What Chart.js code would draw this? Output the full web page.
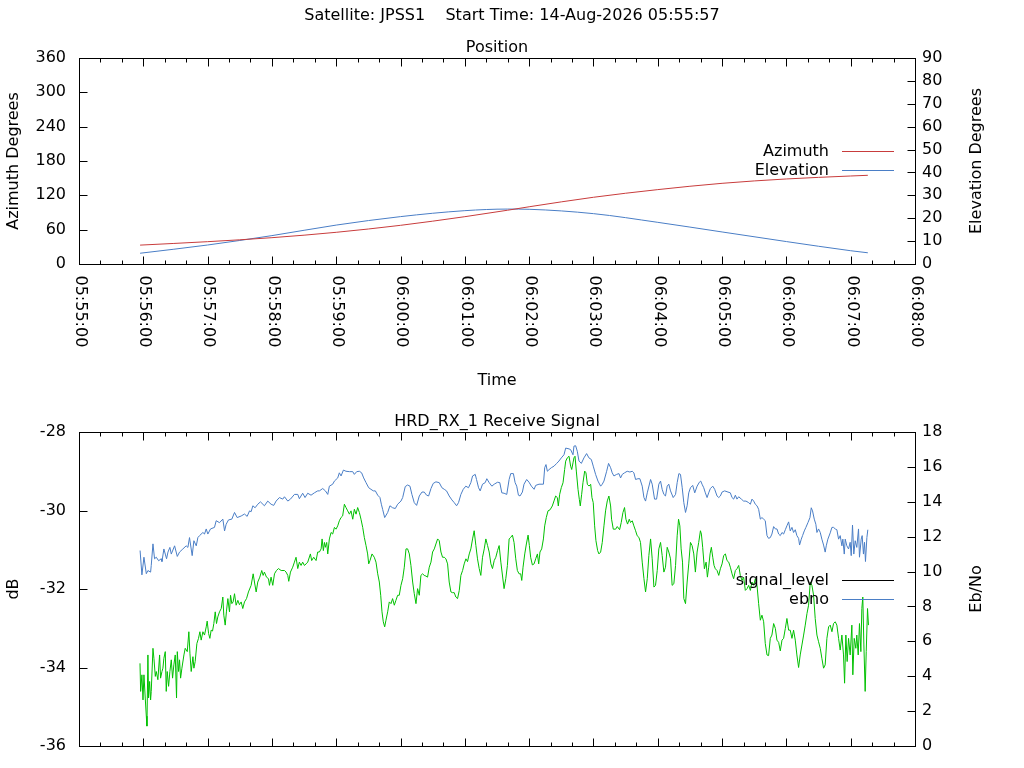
<!DOCTYPE html>
<html>
<head>
<meta charset="utf-8">
<script src="https://cdn.jsdelivr.net/npm/chart.js@4.4.1/dist/chart.umd.min.js"></script>
<style>
  body { margin: 0; background: #fff; }
  #wrap { position: relative; width: 1024px; height: 768px; overflow: hidden; background: #fff; }
  #mainTitle { position: absolute; left: 0; top: 6px; width: 1024px; text-align: center;
    font: 16px/18px 'DejaVu Sans'; white-space: pre; color: #000; }
  canvas { position: absolute; left: 0; }
  #posChart { top: 0; }
  #sigChart { top: 392px; }
</style>
</head>
<body>
<div id="wrap">
  <canvas id="posChart" width="1024" height="392"></canvas>
  <canvas id="sigChart" width="1024" height="376"></canvas>
  <div id="mainTitle">Satellite: JPSS1    Start Time: 14-Aug-2026 05:55:57</div>
</div>
<script>
// all times are seconds after 05:55:00
const posTimes  = [57, 120, 180, 240, 300, 360, 400, 420, 480, 540, 600, 660, 720, 736];
const azimuth   = [33, 39, 46, 55.4, 67.6, 82.7, 94, 100, 116.6, 130, 141, 148.6, 153.8, 155];
const elevation = [4.7, 8.3, 12.4, 17, 20.7, 23.3, 24.0, 23.9, 22, 18.2, 14, 9.8, 5.8, 4.9];

// blue trace, left axis (dB)
const levelTimes = [57,58.7,60.6,62.8,64.3,66.8,67.4,69,70.5,72.1,74.3,76.7,77.4,79.2,80.5,81.7,83,84.8,86.1,89.2,
  91.7,93.8,96.9,100,101.6,103.1,105.6,107.2,109.4,110.9,112.5,115.6,117.1,118.7,120.2,122.7,126.4,128,131.1,134.2,
  135.8,137.3,139.5,142.6,145.1,147.6,151.3,154.4,156.9,159.1,160.6,162.2,164.3,166.8,169.3,173,176.1,179.2,181.7,183.9,
  187,190.1,191.7,194.8,197.3,201,204.1,205.6,208.7,210.9,213.4,216.5,219.6,222.7,
  224.3,227.4,229.9,232.1,233.6,236.7,238.3,241.4,242.9,244.5,246.7,249.1,252.3,255.4,256.9,259.1,261.6,263.7,265.6,267.8,
  270.3,272.4,274.6,276.5,278.7,280.8,282.1,283.3,285.2,288,290.1,292.6,295.1,297.3,300.4,302,304.4,306.6,308.8,310.6,
  312.8,315,317.5,320,322.1,324.3,326.2,328.4,330.5,333,336.1,338.6,340.8,342.9,345.4,347.9,350.1,352.3,354.1,356.3,
  358.5,360.9,363.4,365.6,367.2,369.7,370.9,372.8,374.3,376.5,379,380.5,382.7,385.2,387.4,390.5,392.6,394.5,
  396.6,399.1,401.3,402.8,405.3,406.9,408.4,410,411.5,413.7,415.2,417.7,419.9,422.1,424.6,426.1,429.2,433.3,434.5,435.7,
  437,438.5,440.7,443.2,445.7,447.8,450,452.5,454.1,457.2,458.7,460.9,461.8,463.4,464.9,466.5,468.7,471.1,473.6,475.8,
  478,479.8,482,484.2,486.7,488.2,489.8,492.3,494.1,496,497.5,499.1,501.6,503.8,505.3,506.9,509,511.5,514,516.2,
  517.7,519.3,521.5,523.3,525.5,527.1,528.6,530.2,533.3,534.8,537,538.9,541,542.6,544.1,545.7,547.2,548.8,550.3,551.9,
  554.4,556.6,558.1,559.7,561.2,562.8,564.3,565.9,567.4,
  568.9,570.5,572.6,574.5,576.7,578.8,580.1,581.3,582.9,584.4,586,587.5,589.1,591.3,593.1,595.3,596.9,598.4,600,602.4,
  605.5,607.7,609.3,610.8,612.4,613.9,615.5,618,620.1,622.3,624.8,626.4,627.9,629.5,631,632.6,634.1,635.7,637.2,638.8,
  640.3,641.9,643.4,645,646.5,648.1,649.7,651.2,652.8,654.3,655.9,657.4,659,660.5,662.1,663.6,665.2,666.7,668.3,669.8,
  671.4,672.3,673.9,675.1,676.7,678.2,680.1,682,683.2,684.4,686,687.5,688.5,690,691.6,693.1,694.7,696.2,697.2,698.7,
  700.9,702.5,704,705.6,707.1,708.7,710.2,711.8,712.7,714,714.9,716.4,718,719.5,720.5,721.7,722.9,724.2,725.7,727.3,
  728.2,729.8,730.7,731.9,732.9,733.8,735.1,736];
const levelDb = [-31.02,-31.64,-31.19,-31.61,-31.53,-31.57,-31.40,-30.85,-31.23,-31.19,-31.28,-31.23,-31.30,-30.98,-31.11,-31.23,-31.06,-30.94,-31.11,-30.90,
  -31.17,-31.06,-30.98,-30.90,-30.94,-30.69,-31.15,-30.77,-30.90,-30.69,-30.64,-30.56,-30.60,-30.47,-30.60,-30.47,-30.43,-30.26,-30.31,-30.22,
  -30.52,-30.35,-30.24,-30.22,-30.05,-30.18,-30.14,-30.09,-30.15,-30.01,-30.03,-29.88,-29.93,-29.84,-29.78,-29.88,-29.76,-29.84,-29.87,-29.76,
  -29.67,-29.71,-29.65,-29.76,-29.71,-29.59,-29.59,-29.70,-29.56,-29.67,-29.56,-29.61,-29.55,-29.50,
  -29.50,-29.44,-29.50,-29.59,-29.38,-29.33,-29.25,-29.17,-29.04,-29.12,-28.97,-29.00,-29.01,-29.01,-29.08,-29.01,-29.00,-29.04,-29.17,-29.29,
  -29.42,-29.46,-29.50,-29.50,-29.61,-29.67,-29.84,-29.97,-30.18,-30.05,-29.88,-29.93,-29.95,-29.84,-29.76,-29.67,-29.39,-29.35,-29.38,-29.59,
  -29.80,-29.87,-29.63,-29.53,-29.53,-29.61,-29.63,-29.44,-29.31,-29.27,-29.29,-29.42,-29.46,-29.50,-29.63,-29.73,-29.80,-29.88,-29.80,-29.59,
  -29.46,-29.38,-29.42,-29.29,-29.12,-29.08,-29.21,-29.42,-29.50,-29.33,-29.29,-29.19,-29.29,-29.38,-29.33,-29.28,-29.29,-29.55,
  -29.56,-29.59,-29.21,-29.06,-29.06,-29.29,-29.38,-29.61,-29.63,-29.53,-29.33,-29.21,-29.28,-29.38,-29.46,-29.36,-29.33,-29.33,-28.91,-28.83,
  -29.00,-28.96,-28.91,-28.87,-28.80,-28.74,-28.66,-28.58,-28.41,-28.43,-28.45,-28.58,-28.36,-28.35,-28.49,-28.74,-28.80,-28.66,-28.55,-28.66,
  -28.70,-28.87,-29.08,-29.25,-29.38,-29.33,-29.25,-29.00,-28.80,-28.91,-29.04,-29.12,-29.08,-29.06,-29.17,-29.08,-29.04,-29.00,-29.02,-29.00,
  -29.04,-29.21,-29.19,-29.19,-29.38,-29.67,-29.76,-29.55,-29.21,-29.33,-29.71,-29.71,-29.33,-29.25,-29.46,-29.59,-29.63,-29.38,-29.33,-29.50,
  -29.67,-29.59,-29.29,-29.06,-29.08,-29.42,-29.80,-30.05,-29.88,
  -29.55,-29.42,-29.36,-29.55,-29.38,-29.28,-29.25,-29.33,-29.42,-29.55,-29.67,-29.55,-29.44,-29.38,-29.46,-29.63,-29.67,-29.63,-29.53,-29.50,
  -29.53,-29.55,-29.67,-29.71,-29.61,-29.71,-29.65,-29.71,-29.76,-29.76,-29.80,-29.84,-29.71,-29.76,-29.84,-29.88,-29.97,-30.22,-30.18,-30.22,
  -30.26,-30.64,-30.71,-30.69,-30.60,-30.41,-30.47,-30.47,-30.60,-30.64,-30.56,-30.60,-30.49,-30.39,-30.29,-30.52,-30.43,-30.56,-30.49,-30.64,
  -30.71,-30.88,-30.73,-30.64,-30.52,-30.43,-30.31,-30.18,-29.93,-30.01,-30.22,-30.35,-30.56,-30.47,-30.56,-30.73,-30.88,-31.06,-30.90,-30.73,
  -30.57,-30.43,-30.43,-30.47,-30.49,-30.73,-30.64,-30.90,-30.73,-31.11,-30.73,-30.90,-30.98,-30.81,-31.15,-30.37,-31.11,-30.77,-30.94,-30.47,
  -31.19,-30.73,-30.64,-31.11,-30.81,-31.30,-30.69,-30.49];

// green trace, right axis (Eb/No)
const ebnoTimes = [56.9,57.5,58.7,59.7,60.6,61.8,62.8,63.4,64.3,64.9,65.9,66.8,67.4,69,69.9,71.2,72.1,73.6,75.2,76.1,
  77.4,78.3,79.2,80.5,81.4,82.3,83.6,84.8,86.1,87.3,88.5,89.8,91,91.7,92.9,93.8,94.8,96,97.9,99.1,
  101,102.5,103.5,104.7,106.3,107.2,108.4,110,111.5,112.8,114,115.6,117.1,118.7,119.6,120.9,122.1,123.3,124.6,125.8,
  127.1,128.3,129.5,131.1,132.7,134.2,135.1,136.4,137.6,138.9,140.4,141.4,142.6,143.8,145.1,146.6,148.2,149.7,151.3,152.8,
  154.4,156.3,158.1,160.6,162.5,163.7,165.3,166.8,168.7,170.5,171.8,173,174.9,176.8,177.7,179.2,180.8,182.4,184.2,186.1,
  188.6,191.7,193.2,194.8,195.7,197.3,199.4,201,202.5,204.1,205.6,207.2,208.7,210.3,211.9,213.4,215.9,217.1,219,221.2,222.7,
  224.3,225.9,226.8,228,229,229.9,231.1,232.1,233.6,235.2,236.7,238.3,239.8,241.4,242.9,244.5,246,247.6,249.1,250.7,
  252.3,253.8,255.4,256.9,258.5,260,261.6,263.1,264.7,266.2,267.8,269.3,270.3,271.5,273.4,275.5,277.1,278.7,280.2,281.5,
  282.7,283.9,285.2,286.4,288,289.5,291.1,292.6,294.2,295.7,297.3,298.8,300.4,302,303.5,305.1,306.6,308.2,309.7,311.3,
  312.8,314.4,315.9,317.5,319,320.6,322.1,323.7,325.2,326.8,328.4,329.9,331.5,333,334.6,336.1,337.7,339.2,340.8,342.3,
  343.9,345.4,347,348.5,350.1,351.6,353.2,354.8,356.3,357.9,359.4,361,362.5,364.1,365.6,367.2,368.7,370.3,371.8,373.4,
  374.9,376.5,378.1,379.6,381.2,382.7,384.3,385.8,387.4,388.9,390.5,392,393.6,
  396.6,398.2,399.7,401.3,402.8,404.4,405.9,407.5,409,410.6,412.1,413.1,414.3,415.9,417.4,419,420.2,421.4,423,424.6,
  426.1,427.7,428.9,430.1,431.7,433.3,434.5,436,437.6,439.5,441.6,443.2,444.7,446.3,447.2,448.5,450,451.6,453.1,454.1,
  455.6,457.2,458.7,459.7,460.9,461.8,462.8,464,465.6,466.8,467.7,469,470.2,471.8,473,474.3,475.8,477.4,478.6,479.8,
  481.1,482.3,483.9,485.1,486.7,488.2,489.8,491.3,492.9,494.4,496,496.9,498.5,500.7,502.2,504.4,505.9,507.5,509,510.3,
  511.8,513.4,514.6,516.2,517.7,519.3,520.8,522.4,523.9,525.5,527.1,528.6,530.2,531.7,533.3,534.8,536.4,537.9,539.5,541,
  542.6,544.1,545.7,547.2,548.8,550.3,551.9,553.4,555,556.6,558.1,559.4,560.6,561.8,563.1,564.3,565.9,567.4,
  568.9,570.5,572,573.6,575.1,576.7,578.2,579.8,580.7,581.9,583.5,585.1,586.3,587.5,588.8,590,591.3,592.5,593.7,595.3,
  596.9,598.4,600,601.5,603.1,604.6,606.2,607.7,609.3,610.8,612.4,613.9,615.5,617,618.6,620.1,621.7,623.3,624.8,626.4,
  627.9,629.5,631,632.6,634.1,635.7,637.2,638.8,640.3,641.9,643.4,645,646.5,648.1,649.7,651.2,652.8,654.3,655.9,657.4,
  659,660.5,662.1,663.6,665.2,666.7,668.3,669.8,671.4,672.9,674.5,676.1,677.6,679.2,680.7,682.3,683.8,685.4,686.9,688.5,
  690,691.6,693.1,694.7,696.2,697.8,699.4,700.9,702.5,704,705.6,707.1,708.7,710.2,711.8,713.3,714.3,715.5,716.7,718,
  719.5,721.1,722,723.3,724.8,725.7,727,728.2,729.5,730.4,731.3,732.3,733.5,734.5,735.7,736.6];
const ebnoVals = [4.74,3.13,4.08,2.64,4.08,2.75,1.71,1.14,5.22,2.75,3.70,2.64,3.13,5.60,5.03,3.99,4.27,3.80,5.22,3.89,
  4.27,4.46,5.03,5.41,3.13,4.27,3.42,4.27,4.94,3.89,4.65,5.22,2.75,5.41,4.27,4.94,3.89,4.46,5.22,5.60,
  5.41,6.55,5.32,4.27,5.12,4.46,4.84,5.88,6.17,6.55,6.07,6.55,6.36,6.83,7.16,6.45,6.17,6.64,6.59,7.02,
  7.69,7.02,7.40,7.69,7.88,8.54,7.50,6.93,7.73,8.45,7.69,8.64,8.16,8.26,8.73,8.07,8.35,8.10,8.26,7.88,
  8.26,8.45,8.83,9.21,9.87,9.40,8.83,9.40,9.68,10.06,9.78,9.97,9.68,9.59,9.21,9.68,9.21,9.87,10.06,10.17,
  10.06,10.06,9.97,9.78,9.44,9.97,10.25,10.54,10.82,10.17,10.54,10.35,10.54,10.35,10.44,10.54,11.01,10.63,10.82,10.63,11.12,
  11.12,11.30,11.87,11.20,11.67,11.39,11.67,11.01,11.87,12.24,12.15,12.53,12.43,12.62,12.91,13.10,13.19,13.86,13.67,13.48,
  13.29,13.48,13.00,13.57,13.29,13.67,13.38,13.00,12.53,11.96,11.49,11.01,10.44,10.63,11.01,10.82,10.54,9.87,9.40,8.64,
  7.69,7.12,6.83,7.21,7.69,8.26,8.16,8.45,8.07,8.35,8.64,8.64,9.21,9.59,10.25,11.30,11.30,11.01,10.35,9.40,
  8.73,8.16,9.02,8.64,9.78,9.87,9.78,9.74,9.68,10.25,10.54,11.12,11.30,11.58,11.87,11.77,11.12,10.82,10.82,10.73,
  10.44,9.40,8.83,8.79,8.79,8.54,8.45,8.92,9.78,10.06,10.44,10.73,10.57,11.01,11.30,11.87,12.34,11.49,10.73,10.17,
  9.78,10.82,11.30,11.87,11.49,11.12,10.44,10.17,10.63,10.82,11.20,11.49,10.54,
  9.02,9.59,10.35,11.87,11.96,12.09,11.67,10.73,10.06,9.87,9.87,9.49,10.25,11.01,11.58,12.09,11.49,10.82,10.38,10.44,
  10.73,11.01,10.44,11.12,11.30,11.87,12.62,13.10,13.48,13.54,13.76,14.05,14.33,14.24,13.76,14.43,14.81,15.09,15.85,16.33,
  16.52,16.61,16.04,15.85,16.23,16.52,16.61,15.76,14.71,14.14,13.76,14.43,15.09,15.76,15.66,15.00,14.90,15.00,14.24,13.95,
  12.62,11.77,11.20,11.01,11.12,11.67,12.62,13.48,14.05,14.33,13.76,13.00,12.43,12.43,12.58,12.40,12.81,13.38,13.67,13.00,
  12.72,13.00,12.81,12.91,12.62,12.34,12.05,11.96,11.67,10.54,9.59,8.83,9.59,10.92,11.87,10.73,9.11,9.21,10.06,11.30,
  11.67,10.92,9.97,10.25,11.39,11.12,10.73,9.21,9.30,10.35,12.05,13.00,12.62,11.30,10.54,8.45,8.16,9.40,
  10.44,11.67,11.49,11.01,9.97,11.12,11.67,12.34,12.15,11.39,10.16,10.54,9.68,10.25,11.01,11.39,10.82,10.35,10.16,10.06,
  9.78,10.16,10.44,10.92,11.01,10.63,10.54,10.25,9.87,9.59,10.06,10.16,10.35,9.78,9.49,9.68,8.92,9.02,9.21,8.92,
  9.40,9.21,9.59,9.21,8.16,7.21,7.50,7.12,5.88,5.22,5.18,6.17,6.36,7.02,6.74,6.07,5.94,5.45,6.07,6.17,
  6.74,7.31,6.64,6.64,6.17,6.64,6.07,5.22,4.50,5.22,5.79,6.36,6.93,7.59,8.07,9.40,9.21,8.64,7.31,6.36,
  5.98,5.60,5.03,4.46,4.65,6.17,6.83,6.93,6.55,7.02,7.12,6.93,6.17,5.50,6.36,5.22,3.60,6.36,4.84,6.17,
  5.22,6.93,4.08,6.17,5.60,6.36,5.22,7.02,5.41,7.88,8.54,5.79,3.13,5.41,7.88,6.93];

const FONT = 'DejaVu Sans';
Chart.defaults.font.family = FONT;
Chart.defaults.font.size = 16;
Chart.defaults.font.lineHeight = 1.125;
Chart.defaults.color = '#000';

const BASE_SEC = 5 * 3600 + 55 * 60;
function hms(sec){
  const t = BASE_SEC + sec;
  return [Math.floor(t / 3600), Math.floor(t % 3600 / 60), t % 60].map(v => String(v).padStart(2, '0')).join(':');
}
function pts(xs, ys){ return xs.map((x, i) => ({ x, y: ys[i] })); }

// gnuplot-like frame: border, inward ticks on all sides, rotated time labels, right title, key
const gnuFrame = {
  id: 'gnuFrame',
  afterDatasetsDraw(chart, args, o){
    const ctx = chart.ctx, a = chart.chartArea;
    const L = Math.round(a.left) + 0.5, R = Math.round(a.right) + 0.5;
    const T = Math.round(a.top) + 0.5, B = Math.round(a.bottom) + 0.5;
    const sx = chart.scales.x, sy = chart.scales.y, sy2 = chart.scales.y2;
    ctx.save();
    ctx.strokeStyle = '#000'; ctx.lineWidth = 1;
    ctx.beginPath();
    sx.ticks.forEach(t => {
      const px = Math.round(sx.getPixelForValue(t.value)) + 0.5;
      const len = t.value % 60 === 0 ? 8 : 4;
      ctx.moveTo(px, B); ctx.lineTo(px, B - len);
      ctx.moveTo(px, T); ctx.lineTo(px, T + len);
    });
    sy.ticks.forEach(t => { const py = Math.round(sy.getPixelForValue(t.value)) + 0.5; ctx.moveTo(L, py); ctx.lineTo(L + 8, py); });
    sy2.ticks.forEach(t => { const py = Math.round(sy2.getPixelForValue(t.value)) + 0.5; ctx.moveTo(R, py); ctx.lineTo(R - 8, py); });
    ctx.stroke();
    ctx.strokeRect(L, T, R - L, B - T);

    ctx.fillStyle = '#000';
    ctx.font = '16px "' + FONT + '"';
    if (o.timeLabels) {
      ctx.textAlign = 'left'; ctx.textBaseline = 'middle';
      sx.ticks.filter(t => t.value % 60 === 0).forEach(t => {
        ctx.save();
        ctx.translate(sx.getPixelForValue(t.value) + 1, B + 11);
        ctx.rotate(Math.PI / 2);
        ctx.fillText(hms(t.value), 0, 0);
        ctx.restore();
      });
    }
    ctx.save();
    ctx.translate(o.rightTitleX, (a.top + a.bottom) / 2);
    ctx.rotate(-Math.PI / 2);
    ctx.textAlign = 'center'; ctx.textBaseline = 'middle';
    ctx.fillText(o.rightTitle, 0, 0);
    ctx.restore();

    ctx.textAlign = 'right'; ctx.textBaseline = 'middle';
    o.key.forEach((k, i) => {
      const y = Math.round(a.top + o.keyTop + i * 19) + 0.5;
      ctx.fillStyle = '#000';
      ctx.fillText(k.label, a.right - 86, y);
      ctx.strokeStyle = k.color;
      ctx.beginPath(); ctx.moveTo(a.right - 73, y); ctx.lineTo(a.right - 21, y); ctx.stroke();
    });
    ctx.restore();
  }
};

function timeAxis(h, title){
  return {
    type: 'linear', min: 0, max: 780,
    ticks: { stepSize: 20, display: false, maxTicksLimit: 100 },
    grid: { display: false, drawTicks: false }, border: { display: false },
    title: title ? { display: true, text: title, padding: { top: 0, bottom: 2 } } : { display: false },
    afterFit(s){ s.height = h; }
  };
}
function valAxis(pos, min, max, step, title){
  return {
    type: 'linear', position: pos, min, max,
    ticks: { stepSize: step, autoSkip: false, padding: pos === 'left' ? 13 : 7 },
    grid: { display: false, drawTicks: false }, border: { display: false },
    title: title ? { display: true, text: title, padding: { top: 5, bottom: 0 } } : { display: false },
    afterFit(s){ s.width = 79; }
  };
}
function line(data, color, axis, smooth){
  return { data, borderColor: color, borderWidth: 1, pointRadius: 0, fill: false, yAxisID: axis,
    tension: 0, cubicInterpolationMode: smooth ? 'monotone' : 'default' };
}

const RED = '#c83c3c', BLUE = '#4a7ec6', GREEN = '#00c000';

new Chart(document.getElementById('posChart'), {
  type: 'line',
  data: { datasets: [
    line(pts(posTimes, azimuth), RED, 'y', true),
    line(pts(posTimes, elevation), BLUE, 'y2', true)
  ] },
  options: {
    responsive: false, animation: false, events: [],
    layout: { padding: { top: 37, right: 30, left: 0, bottom: 0 } },
    scales: {
      x: timeAxis(128, 'Time'),
      y: valAxis('left', 0, 360, 60, 'Azimuth Degrees'),
      y2: valAxis('right', 0, 90, 10, null)
    },
    plugins: {
      legend: { display: false }, tooltip: { enabled: false },
      title: { display: true, text: 'Position', font: { weight: 'normal' }, padding: { top: 2, bottom: 1 } },
      gnuFrame: { timeLabels: true, rightTitle: 'Elevation Degrees', rightTitleX: 977, keyTop: 93,
        key: [{ label: 'Azimuth', color: RED }, { label: 'Elevation', color: BLUE }] }
    }
  },
  plugins: [gnuFrame]
});

new Chart(document.getElementById('sigChart'), {
  type: 'line',
  data: { datasets: [
    line(pts(levelTimes, levelDb), BLUE, 'y', false),
    line(pts(ebnoTimes, ebnoVals), GREEN, 'y2', false)
  ] },
  options: {
    responsive: false, animation: false, events: [],
    layout: { padding: { top: 19, right: 30, left: 0, bottom: 0 } },
    scales: {
      x: timeAxis(20, null),
      y: valAxis('left', -36, -28, 2, 'dB'),
      y2: valAxis('right', 0, 18, 2, null)
    },
    plugins: {
      legend: { display: false }, tooltip: { enabled: false },
      title: { display: true, text: 'HRD_RX_1 Receive Signal', font: { weight: 'normal' }, padding: { top: 2, bottom: 1 } },
      gnuFrame: { timeLabels: false, rightTitle: 'Eb/No', rightTitleX: 977, keyTop: 148,
        key: [{ label: 'signal_level', color: '#000' }, { label: 'ebno', color: BLUE }] }
    }
  },
  plugins: [gnuFrame]
});
</script>
</body>
</html>
